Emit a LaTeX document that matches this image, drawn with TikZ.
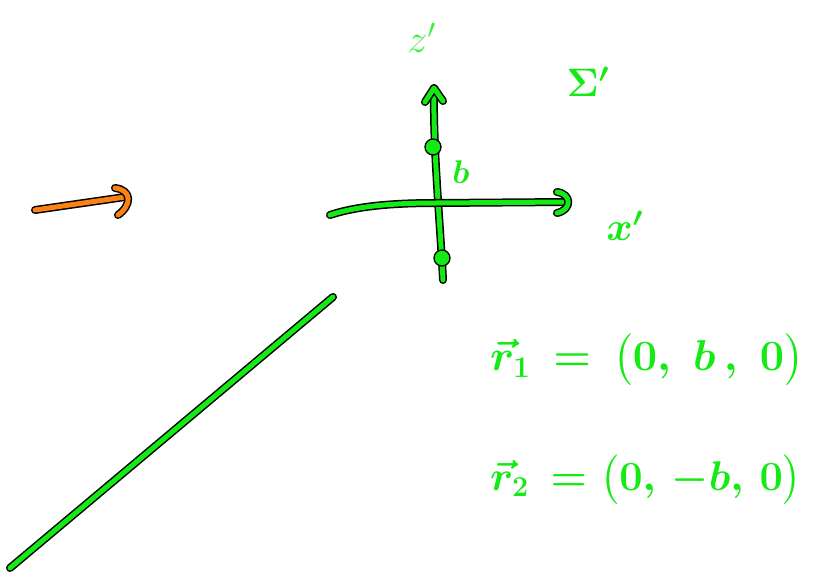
\documentclass[tikz,border=0pt]{standalone}
\usepackage{amsmath}
\usepackage{graphicx}
\definecolor{pen}{RGB}{20,235,20}
\definecolor{penlight}{RGB}{60,240,60}
\definecolor{orangepen}{RGB}{250,130,20}
\tikzset{
  hand/.style={preaction={draw=black,line width=8pt,line cap=round,line join=round},
               draw=pen,line width=5pt,line cap=round,line join=round},
  handorange/.style={preaction={draw=black,line width=8pt,line cap=round,line join=round},
               draw=orangepen,line width=5pt,line cap=round,line join=round},
  dotmark/.style={circle,draw=black,line width=1.3pt,fill=pen,minimum size=16pt,inner sep=0pt},
  lbl/.style={text=pen,font=\LARGE\boldmath,inner sep=0pt},
  eqn/.style={text=pen,font=\LARGE\boldmath,inner sep=0pt,anchor=west}
}
\begin{document}
\begin{tikzpicture}[x=1pt,y=-1pt]
\useasboundingbox (0,0) rectangle (817,572);
% coordinates
\coordinate (ztop) at (434,88);
\coordinate (zbot) at (443,280);
\coordinate (xleft) at (330,215);
\coordinate (xright) at (568,202);
\coordinate (oa) at (35,210);
\coordinate (ob) at (125,197);
\coordinate (la) at (333,297);
\coordinate (lb) at (10,568);
% vertical axis
\draw[hand] (zbot) .. controls (440,220) and (433,150) .. (ztop);
\draw[hand] (425,102) -- (ztop) -- (443,101);
% horizontal axis
\draw[hand] (xleft) .. controls (360,205) and (400,203) .. (437,203) -- (xright);
\draw[hand] (557,192) .. controls (572,194) and (572,210) .. (557,213);
% dots
\node[dotmark] (d1) at (433,147) {};
\node[dotmark] (d2) at (442,258) {};
% orange arrow
\draw[handorange] (oa) -- (ob);
\draw[handorange] (115,188) .. controls (132,190) and (132,205) .. (118,215);
% long line
\draw[hand] (la) -- (lb);
% labels
\node[text=penlight,font=\LARGE,inner sep=0pt] (zl) at (422,38) {\scalebox{2.3}{$z'$}};
\node[lbl] (sig) at (588,82) {\scalebox{2.3}{$\Sigma'$}};
\node[lbl] (bl) at (461,172) {\scalebox{1.9}{$b$}};
\node[lbl] (xl) at (625,226) {\scalebox{2.3}{$x'$}};
\node[eqn] (r1) at (490,360) {\scalebox{2.5}{$\vec{r}_{1}\,=\,\bigl(0,\;b\,,\;0\bigr)$}};
\node[eqn] (r2) at (490,480) {\scalebox{2.4}{$\vec{r}_{2}\,=\bigl(0,\,-b,\,0\bigr)$}};
\end{tikzpicture}
\end{document}
